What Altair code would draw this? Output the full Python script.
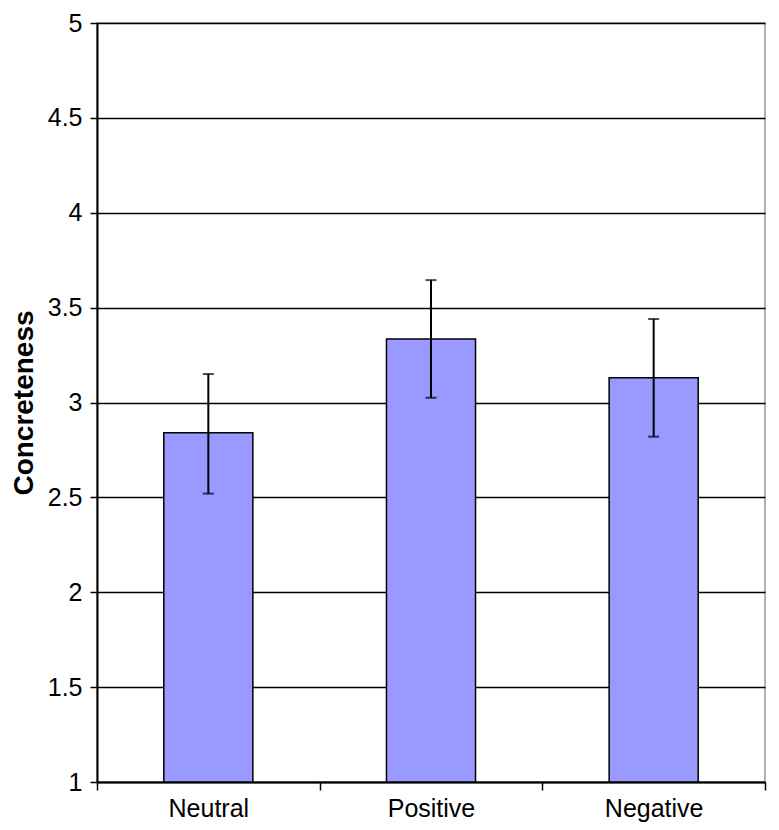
import altair as alt
import pandas as pd

categories = ["Neutral", "Positive", "Negative"]
means = [2.84, 3.335, 3.13]
err_low = [2.52, 3.025, 2.82]
err_high = [3.15, 3.645, 3.44]

df = pd.DataFrame({
    "cat": categories,
    "mean": means,
    "lo": err_low,
    "hi": err_high,
})
df["idx"] = range(len(categories))
df["x0"] = df["idx"] + 0.3
df["x1"] = df["idx"] + 0.7
df["xc"] = df["idx"] + 0.5

label_expr = ("datum.value == 0.5 ? 'Neutral' : datum.value == 1.5 ? 'Positive' : "
              "datum.value == 2.5 ? 'Negative' : ''")

xscale = alt.Scale(domain=[0, 3], nice=False, zero=False)
yscale = alt.Scale(domain=[1, 5], nice=False, zero=False)

x_axis = alt.Axis(
    values=[0, 0.5, 1, 1.5, 2, 2.5, 3],
    labelExpr=label_expr,
    grid=False,
    title=None,
    tickSize=8,
    tickWidth=1.5,
    tickColor={"condition": {"test": "datum.value % 1 != 0", "value": "transparent"}, "value": "black"},
    domainColor="black",
    domainWidth=2,
    labelFontSize=25,
    labelFont="Liberation Sans",
    labelColor="black",
    labelPadding=6,
    labelFlush=False,
    labelOverlap=False,
)

y_axis = alt.Axis(
    values=[1, 1.5, 2, 2.5, 3, 3.5, 4, 4.5, 5],
    format=".1~f",
    grid=True,
    gridColor="black",
    gridWidth=1.5,
    tickSize=7,
    tickWidth=1.5,
    tickColor="black",
    domainColor="black",
    domainWidth=2,
    labelFontSize=25,
    labelFont="Liberation Sans",
    labelColor="black",
    labelPadding=8,
    title="Concreteness",
    titleFontSize=28,
    titleFont="Liberation Sans",
    titleFontWeight="bold",
    titleColor="black",
    titlePadding=9,
)

base = alt.Chart(df)

bars = base.mark_bar(color="#9999FF", stroke="black", strokeWidth=1.5).encode(
    x=alt.X("x0:Q", scale=xscale, axis=x_axis),
    x2="x1:Q",
    y=alt.Y("mean:Q", scale=yscale, axis=y_axis),
    y2=alt.datum(1),
)

err = base.mark_rule(color="black", strokeWidth=2).encode(
    x=alt.X("xc:Q", scale=xscale),
    y=alt.Y("lo:Q", scale=yscale),
    y2="hi:Q",
)

cap_lo = base.mark_tick(color="black", thickness=2, size=11, orient="horizontal").encode(
    x=alt.X("xc:Q", scale=xscale),
    y=alt.Y("lo:Q", scale=yscale),
)
cap_hi = base.mark_tick(color="black", thickness=2, size=11, orient="horizontal").encode(
    x=alt.X("xc:Q", scale=xscale),
    y=alt.Y("hi:Q", scale=yscale),
)

chart = alt.layer(bars, err, cap_lo, cap_hi).properties(
    width=668,
    height=759,
    padding={"left": 2, "top": 3, "right": 5, "bottom": 5},
).configure_view(
    stroke="#999999",
    strokeWidth=1.5,
)

chart.save("out.html", embed_options={"renderer": "svg", "actions": False})
